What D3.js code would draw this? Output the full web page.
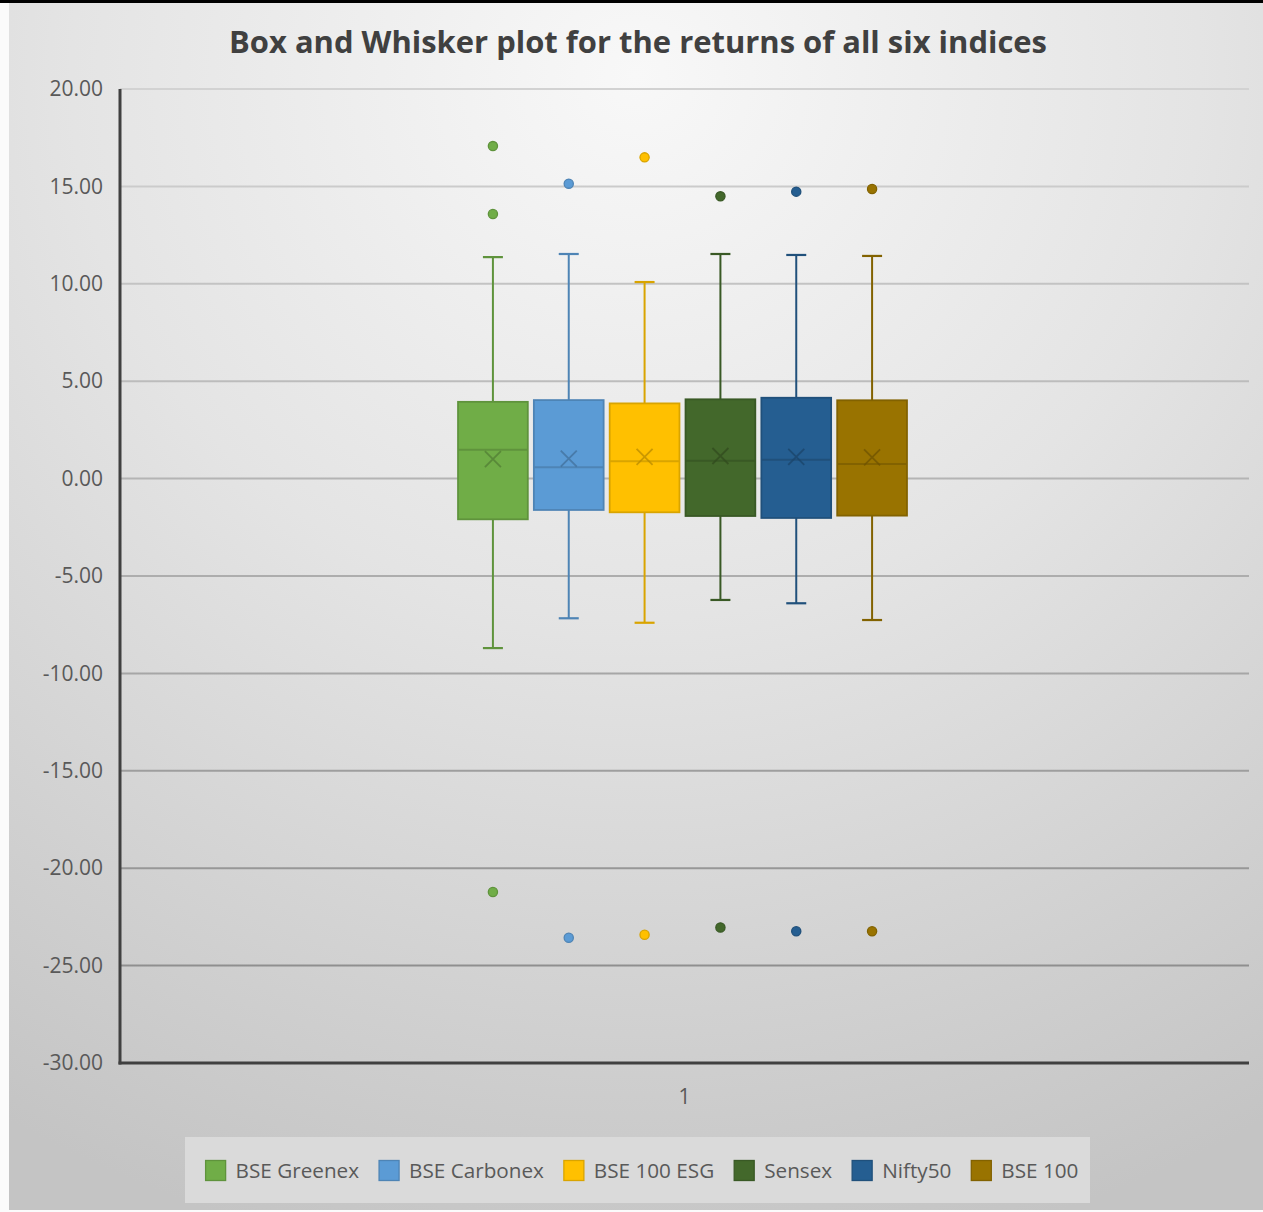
<!DOCTYPE html>
<html>
<head>
<meta charset="utf-8">
<script src="https://cdn.jsdelivr.net/npm/d3@7"></script>
<style>
  html, body { margin: 0; padding: 0; background: #ffffff; }
  svg { display: block; }
  text { font-family: "Open Sans", "Noto Sans", sans-serif; }
</style>
</head>
<body>
<svg id="chart" width="1263" height="1212"></svg>
<script>
// ---- Data ----
const categories = ["1"];
const seriesNames = ["BSE Greenex", "BSE Carbonex", "BSE 100 ESG", "Sensex", "Nifty50", "BSE 100"];
const seriesColors = ["#70AD47", "#5B9BD5", "#FFC000", "#43682B", "#255E91", "#997300"];
const whiskerLow  = [-8.70, -7.17, -7.40, -6.23, -6.40, -7.26];
const q1Values    = [-2.09, -1.61, -1.73, -1.92, -2.02, -1.90];
const medianVals  = [1.48, 0.58, 0.89, 0.92, 0.97, 0.75];
const q3Values    = [3.94, 4.03, 3.86, 4.07, 4.15, 4.02];
const whiskerHigh = [11.37, 11.53, 10.09, 11.53, 11.48, 11.43];
const meanValues  = [1.00, 1.02, 1.12, 1.16, 1.12, 1.09];
const outliers    = [
  [17.07, 13.58, -21.22],
  [15.14, -23.57],
  [16.49, -23.42],
  [14.49, -23.04],
  [14.73, -23.24],
  [14.87, -23.24]
];
const yTicks = [20, 15, 10, 5, 0, -5, -10, -15, -20, -25, -30];
const titleText = "Box and Whisker plot for the returns of all six indices";

// ---- Layout ----
const W = 1263, H = 1212;
const plot = { left: 120, right: 1249, top: 89, bottom: 1063 };
const svg = d3.select("#chart");

// background
const defs = svg.append("defs");
const grad = defs.append("radialGradient").attr("id", "bg")
  .attr("cx", "50%").attr("cy", "6%").attr("r", "100%")
  .attr("fx", "50%").attr("fy", "6%");
grad.append("stop").attr("offset", "0%").attr("stop-color", "#f8f8f8");
grad.append("stop").attr("offset", "45%").attr("stop-color", "#e4e4e4");
grad.append("stop").attr("offset", "100%").attr("stop-color", "#c4c4c4");

svg.append("rect").attr("x", 0).attr("y", 0).attr("width", W).attr("height", H).attr("fill", "#fbfbfb");
svg.append("rect").attr("x", 9).attr("y", 3).attr("width", W - 9).attr("height", H - 5).attr("fill", "url(#bg)");
svg.append("rect").attr("x", 0).attr("y", 0).attr("width", W).attr("height", 3).attr("fill", "#000");

// scales
const y = d3.scaleLinear().domain([-30, 20]).range([plot.bottom, plot.top]);
const xCat = d3.scaleBand().domain(categories).range([plot.left, plot.right]);
const catCenter = xCat(categories[0]) + xCat.bandwidth() / 2;
const x = d3.scaleBand().domain(seriesNames)
  .range([catCenter - 229.5, catCenter + 225.5])
  .paddingInner(0.08).paddingOuter(0.04);

// gridlines (darken toward the bottom)
const gridColor = d3.interpolateRgb("#d2d2d2", "#888888");
svg.append("g").selectAll("line").data(yTicks.filter(t => t !== -30)).join("line")
  .attr("x1", plot.left).attr("x2", plot.right)
  .attr("y1", d => y(d)).attr("y2", d => y(d))
  .attr("stroke", d => gridColor((y(d) - plot.top) / (plot.bottom - plot.top)))
  .attr("stroke-width", 2);

// y axis labels
const fmt = d3.format(".2f");
const yAxis = d3.axisLeft(y).tickValues(yTicks)
  .tickFormat(d => fmt(d).replace("\u2212", "-")).tickSize(0).tickPadding(17);
const gy = svg.append("g").attr("transform", `translate(${plot.left},0)`).call(yAxis);
gy.select(".domain").remove();
gy.selectAll("text").attr("fill", "#595959").attr("font-size", 21)
  .style("font-family", '"Open Sans", sans-serif');

// x axis label
const xAxis = d3.axisBottom(xCat).tickSize(0).tickPadding(26);
const gx = svg.append("g").attr("transform", `translate(0,${plot.bottom})`).call(xAxis);
gx.select(".domain").remove();
gx.selectAll("text").attr("fill", "#595959").attr("font-size", 21)
  .style("font-family", '"Open Sans", sans-serif');

// axes lines
svg.append("line").attr("x1", plot.left).attr("x2", plot.left)
  .attr("y1", plot.top).attr("y2", plot.bottom + 1.5)
  .attr("stroke", "#404040").attr("stroke-width", 3);
svg.append("line").attr("x1", plot.left - 1.5).attr("x2", plot.right)
  .attr("y1", plot.bottom).attr("y2", plot.bottom)
  .attr("stroke", "#404040").attr("stroke-width", 3);

// boxes
const data = seriesNames.map((name, i) => ({
  name, color: seriesColors[i],
  lo: whiskerLow[i], q1: q1Values[i], med: medianVals[i], q3: q3Values[i], hi: whiskerHigh[i],
  mean: meanValues[i], out: outliers[i]
}));

const bw = x.bandwidth();
const capHalf = 10;
const groups = svg.append("g").selectAll("g").data(data).join("g");

groups.each(function(d) {
  const g = d3.select(this);
  const cx = x(d.name) + bw / 2;
  const stroke = d3.color(d.color).darker(0.45).formatHex();
  const strokeDark = d3.color(d.color).darker(0.9).formatHex();
  g.append("line").attr("x1", cx).attr("x2", cx).attr("y1", y(d.hi)).attr("y2", y(d.q3))
    .attr("stroke", stroke).attr("stroke-width", 2);
  g.append("line").attr("x1", cx).attr("x2", cx).attr("y1", y(d.q1)).attr("y2", y(d.lo))
    .attr("stroke", stroke).attr("stroke-width", 2);
  g.append("line").attr("x1", cx - capHalf).attr("x2", cx + capHalf).attr("y1", y(d.hi)).attr("y2", y(d.hi))
    .attr("stroke", stroke).attr("stroke-width", 2.2);
  g.append("line").attr("x1", cx - capHalf).attr("x2", cx + capHalf).attr("y1", y(d.lo)).attr("y2", y(d.lo))
    .attr("stroke", stroke).attr("stroke-width", 2.2);
  g.append("rect").attr("x", x(d.name)).attr("width", bw)
    .attr("y", y(d.q3)).attr("height", y(d.q1) - y(d.q3))
    .attr("fill", d.color).attr("stroke", stroke).attr("stroke-width", 1.8);
  g.append("line").attr("x1", x(d.name)).attr("x2", x(d.name) + bw)
    .attr("y1", y(d.med)).attr("y2", y(d.med))
    .attr("stroke", stroke).attr("stroke-width", 2);
  const m = 8, my = y(d.mean);
  g.append("path")
    .attr("d", `M${cx - m},${my - m}L${cx + m},${my + m}M${cx - m},${my + m}L${cx + m},${my - m}`)
    .attr("stroke", strokeDark).attr("stroke-opacity", 0.75).attr("stroke-width", 1.8).attr("fill", "none");
  g.selectAll("circle").data(d.out).join("circle")
    .attr("cx", cx).attr("cy", v => y(v)).attr("r", 4.6)
    .attr("fill", d.color).attr("stroke", stroke).attr("stroke-width", 1.3);
});

// title
svg.append("text").attr("x", 638).attr("y", 53).attr("text-anchor", "middle")
  .attr("font-size", 30).attr("font-weight", 700).attr("fill", "#404040")
  .attr("textLength", 818).attr("lengthAdjust", "spacingAndGlyphs")
  .text(titleText);

// legend
const legend = { x: 185, y: 1137, w: 905, h: 66 };
svg.append("rect").attr("x", legend.x).attr("y", legend.y).attr("width", legend.w).attr("height", legend.h)
  .attr("fill", "#dadada");
const lg = svg.append("g");
const items = lg.selectAll("g").data(data).join("g");
items.append("rect").attr("width", 20).attr("height", 20).attr("y", -10)
  .attr("fill", d => d.color).attr("stroke", d => d3.color(d.color).darker(0.45).formatHex()).attr("stroke-width", 1.3);
items.append("text").attr("x", 30).attr("y", 7.5).attr("font-size", 20.7).attr("fill", "#595959")
  .text(d => d.name);
const widths = [];
items.each(function() {
  const tw = d3.select(this).select("text").node().getComputedTextLength();
  widths.push(30 + tw);
});
const gap = 20;
const total = d3.sum(widths) + gap * (widths.length - 1);
const startX = 642 - total / 2;
items.attr("transform", (d, i) => {
  const tx = startX + d3.sum(widths.slice(0, i)) + gap * i;
  return `translate(${tx},${1170.5})`;
});
</script>
</body>
</html>
